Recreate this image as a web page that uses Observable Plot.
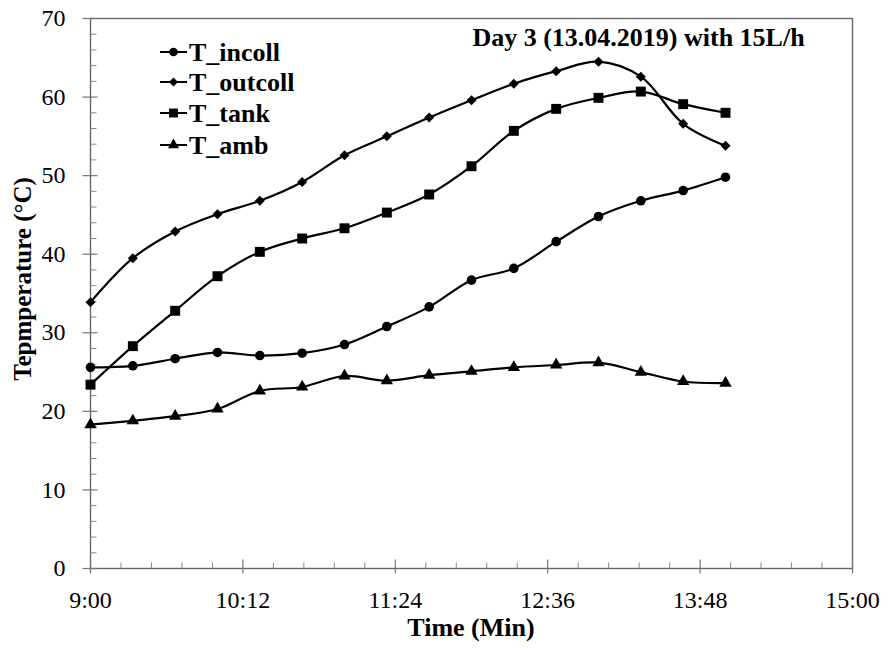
<!DOCTYPE html>
<html>
<head>
<meta charset="utf-8">
<script src="https://cdn.jsdelivr.net/npm/d3@7"></script>
<script src="https://cdn.jsdelivr.net/npm/@observablehq/plot@0.6"></script>
<style>
  html, body { margin: 0; padding: 0; background: #fff; }
  #chart { width: 888px; height: 648px; }
</style>
</head>
<body>
<div id="chart"></div>
<script>
// ---- data ----
const times = ["9:00","9:20","9:40","10:00","10:20","10:40","11:00","11:20","11:40","12:00","12:20","12:40","13:00","13:20","13:40","14:00"];
const seriesNames = ["T_incoll","T_outcoll","T_tank","T_amb"];
const T_incoll  = [25.6, 25.8, 26.7, 27.5, 27.1, 27.4, 28.5, 30.8, 33.3, 36.7, 38.2, 41.6, 44.8, 46.8, 48.1, 49.8];
const T_outcoll = [33.9, 39.5, 42.9, 45.1, 46.8, 49.2, 52.6, 55.0, 57.4, 59.6, 61.7, 63.3, 64.5, 62.6, 56.6, 53.8];
const T_tank    = [23.4, 28.3, 32.8, 37.2, 40.3, 42.0, 43.3, 45.3, 47.6, 51.2, 55.7, 58.5, 59.9, 60.7, 59.1, 58.0];
const T_amb     = [18.3, 18.8, 19.4, 20.3, 22.6, 23.1, 24.5, 23.9, 24.6, 25.1, 25.6, 25.9, 26.2, 25.0, 23.8, 23.6];
const xTickLabels = ["9:00","10:12","11:24","12:36","13:48","15:00"];
const yTicks = [0, 10, 20, 30, 40, 50, 60, 70];
const title = "Day 3 (13.04.2019) with 15L/h";
const xTitle = "Time (Min)";
const yTitle = "Tepmperature (\u00B0C)";

// ---- helpers ----
const toMin = s => { const [h, m] = s.split(":").map(Number); return h * 60 + m; };
const fmt = m => `${Math.floor(m / 60)}:${String(Math.round(m % 60)).padStart(2, "0")}`;
const valuesBy = {T_incoll, T_outcoll, T_tank, T_amb};
const symbolBy = {T_incoll: "circle", T_outcoll: "diamond2", T_tank: "square", T_amb: "triangle"};
const rBy = {T_incoll: 4.8, T_outcoll: 4.5, T_tank: 5.6, T_amb: 4.6};
const data = seriesNames.flatMap(name => times.map((t, i) => ({series: name, x: toMin(t), y: valuesBy[name][i]})));

const xTicks = xTickLabels.map(toMin);
const xMinor = d3.range(xTicks[0], xTicks[xTicks.length - 1] + 0.01, 14.4).filter(v => !xTicks.some(t => Math.abs(t - v) < 0.5));
const yMinor = d3.range(0, 70.01, 2).filter(v => v % 10 !== 0);

// custom tick symbols (pixel-length strokes)
const sym = f => ({draw(ctx) { f(ctx); }});
const yMajorSym = sym(c => { c.moveTo(-8, 0); c.lineTo(7, 0); });
const yMinorSym = sym(c => { c.moveTo(0, 0); c.lineTo(6, 0); });
const xMajorSym = sym(c => { c.moveTo(0, 5); c.lineTo(0, -9); });
const xMinorSym = sym(c => { c.moveTo(0, 0); c.lineTo(0, -6); });

const FONT = "'Liberation Serif', 'Times New Roman', serif";
const x0 = xTicks[0];

const marks = [
  Plot.frame({stroke: "#666", strokeWidth: 1.4}),
  Plot.dot(yTicks, {x: () => x0, y: d => d, symbol: yMajorSym, fill: "none", stroke: "#777", strokeWidth: 1.2}),
  Plot.dot(yMinor, {x: () => x0, y: d => d, symbol: yMinorSym, fill: "none", stroke: "#888", strokeWidth: 1}),
  Plot.dot(xTicks, {x: d => d, y: () => 0, symbol: xMajorSym, fill: "none", stroke: "#777", strokeWidth: 1.2}),
  Plot.dot(xMinor, {x: d => d, y: () => 0, symbol: xMinorSym, fill: "none", stroke: "#888", strokeWidth: 1}),
  Plot.line(data, {x: "x", y: "y", z: "series", curve: "catmull-rom", stroke: "black", strokeWidth: 2.2})
];
for (const name of seriesNames) {
  marks.push(Plot.dot(data.filter(d => d.series === name), {x: "x", y: "y", symbol: symbolBy[name], r: rBy[name], fill: "black", stroke: "none"}));
}

const svg = Plot.plot({
  width: 888,
  height: 648,
  marginLeft: 90,
  marginRight: 36,
  marginTop: 18,
  marginBottom: 80,
  style: {fontFamily: FONT, fontSize: "24px", color: "black", background: "white", overflow: "visible"},
  x: {type: "linear", domain: [xTicks[0], xTicks[xTicks.length - 1]], ticks: xTicks, tickFormat: fmt, tickSize: 0, tickPadding: 22, label: null},
  y: {domain: [0, 70], ticks: yTicks, tickSize: 0, tickPadding: 25, label: null},
  marks
});
document.getElementById("chart").appendChild(svg);

// ---- titles and legend ----
const s = d3.select(svg);
const addText = (sel, size) => sel.attr("font-family", FONT).attr("font-weight", "bold").attr("font-size", size).attr("fill", "#000");
addText(s.append("text").attr("x", 638.5).attr("y", 46).attr("text-anchor", "middle"), 26).text(title);
addText(s.append("text").attr("x", 471).attr("y", 636).attr("text-anchor", "middle"), 26).text(xTitle);
addText(s.append("text").attr("transform", "translate(31,279) rotate(-90)").attr("text-anchor", "middle"), 25).text(yTitle);

const symMap = {circle: d3.symbolCircle, diamond2: d3.symbolDiamond2, square: d3.symbolSquare, triangle: d3.symbolTriangle};
const rowY = [52, 82, 113, 145];
const lg = s.append("g").attr("aria-label", "legend");
seriesNames.forEach((name, i) => {
  const g = lg.append("g").attr("transform", `translate(0,${rowY[i]})`);
  g.append("line").attr("x1", 160).attr("x2", 187).attr("y1", 0).attr("y2", 0).attr("stroke", "black").attr("stroke-width", 2);
  g.append("path").attr("transform", "translate(173.5,0)")
    .attr("d", d3.symbol(symMap[symbolBy[name]], Math.PI * rBy[name] * rBy[name] * 0.8)()).attr("fill", "black");
  addText(g.append("text").attr("x", 189).attr("y", 0).attr("dy", "0.35em").attr("text-anchor", "start"), 26).text(name);
});
</script>
</body>
</html>
